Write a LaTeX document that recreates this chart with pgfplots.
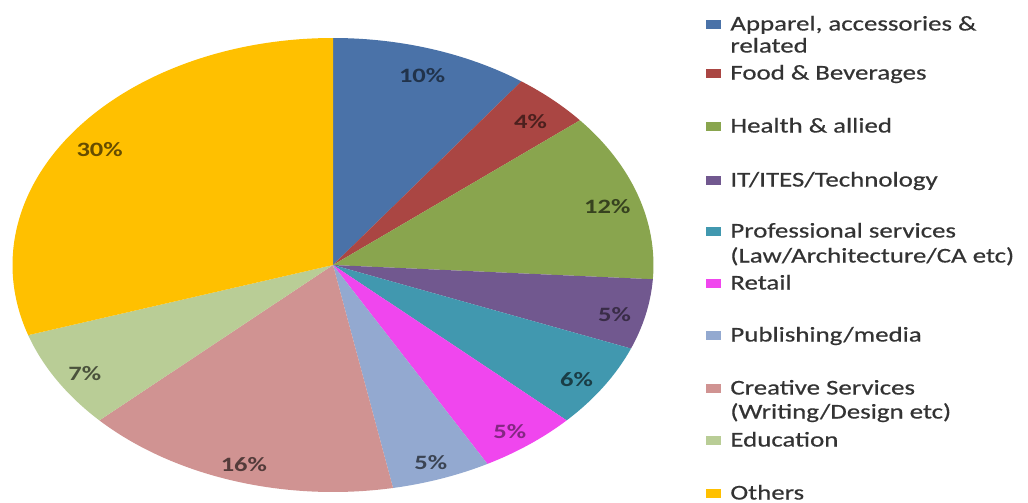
\documentclass[border=0pt]{standalone}
\usepackage{pgfplots}
\pgfplotsset{compat=1.18}
\usepackage{pgfplotstable}
\usepackage{fontspec}
\setmainfont{Carlito}[FakeStretch=1.3]
\newfontfamily\legendfamily{Carlito}[FakeStretch=1.28, FakeBold=0.5]

% Excel-like slice colours
\definecolor{cApp}{HTML}{4A72A8}
\definecolor{cFood}{HTML}{AA4643}
\definecolor{cHealth}{HTML}{89A54E}
\definecolor{cIT}{HTML}{71588F}
\definecolor{cProf}{HTML}{4198AF}
\definecolor{cRet}{HTML}{F046EE}
\definecolor{cPub}{HTML}{93A9D0}
\definecolor{cCre}{HTML}{D09392}
\definecolor{cEdu}{HTML}{B9CD96}
\definecolor{cOth}{HTML}{FFC000}

% share in percent, clockwise from 12 o'clock
\pgfplotstableread{
share fill    text
10    cApp    cApp!45!black
4     cFood   cFood!45!black
12    cHealth cHealth!40!black
5     cIT     cIT!50!black
6     cProf   cProf!40!black
5     cRet    cRet!55!black
5     cPub    cPub!40!black
16    cCre    cCre!40!black
7     cEdu    cEdu!40!black
30    cOth    cOth!40!black
}\piedata

\newcommand\labelfont{\fontsize{10.2}{12}\selectfont\bfseries}

\begin{document}
\begin{tikzpicture}
\useasboundingbox (0,0) rectangle (514pt,-251.5pt);
\begin{axis}[
    at={(166.5pt,-132.5pt)}, anchor=center,
    scale only axis, width=320.5pt, height=227pt,
    xmin=-1, xmax=1, ymin=-1, ymax=1,
    hide axis, clip=false,
  ]
  \pgfplotstablegetrowsof{\piedata}
  \pgfmathtruncatemacro{\nrows}{\pgfplotsretval-1}
  \def\startangle{90}
  \pgfplotsforeachungrouped \i in {0,...,\nrows}{%
    \pgfplotstablegetelem{\i}{share}\of\piedata \let\share\pgfplotsretval
    \pgfplotstablegetelem{\i}{fill}\of\piedata \let\fillcol\pgfplotsretval
    \pgfplotstablegetelem{\i}{text}\of\piedata \let\textcol\pgfplotsretval
    \pgfmathsetmacro{\endangle}{\startangle-3.6*\share}
    \pgfmathsetmacro{\midangle}{(\startangle+\endangle)/2}
    \edef\slice{%
      \noexpand\fill[\fillcol] (axis cs:0,0) -- (axis cs:{cos(\startangle)},{sin(\startangle)})
        arc[start angle=\startangle, end angle=\endangle, x radius=160.25pt, y radius=113.5pt] -- cycle;
      \noexpand\node[text=\textcol, font=\noexpand\labelfont, inner sep=0pt, yshift=-2.5pt]
        at (axis cs:{0.9*cos(\midangle)},{0.9*sin(\midangle)}) {\share\noexpand\%};
    }\slice
    \let\startangle\endangle
  }
\end{axis}

% legend, in pixel units of the reference
\begin{scope}[x=0.5pt, y=-0.5pt, font=\legendfamily\fontsize{10.5}{12.5}\selectfont]
  \foreach \y/\c/\t in {24/cApp/{Apparel, accessories \&}, 73/cFood/{Food \& Beverages},
      126/cHealth/{Health \& allied}, 180/cIT/{IT/ITES/Technology},
      231/cProf/{Professional services}, 283/cRet/{Retail}, 335/cPub/{Publishing/media},
      388/cCre/{Creative Services}, 440/cEdu/{Education}, 493/cOth/{Others}}{
    \fill[\c] (706,\y-4.5) rectangle (721,\y+4.5);
    \node[anchor=base west, inner sep=0pt, text=black!80] at (730,\y+6.5) {\t};
  }
  \foreach \y/\t in {46/{related}, 256/{(Law/Architecture/CA etc)}, 412/{(Writing/Design etc)}}{
    \node[anchor=base west, inner sep=0pt, text=black!80] at (730,\y+6.5) {\t};
  }
\end{scope}
\end{tikzpicture}
\end{document}
